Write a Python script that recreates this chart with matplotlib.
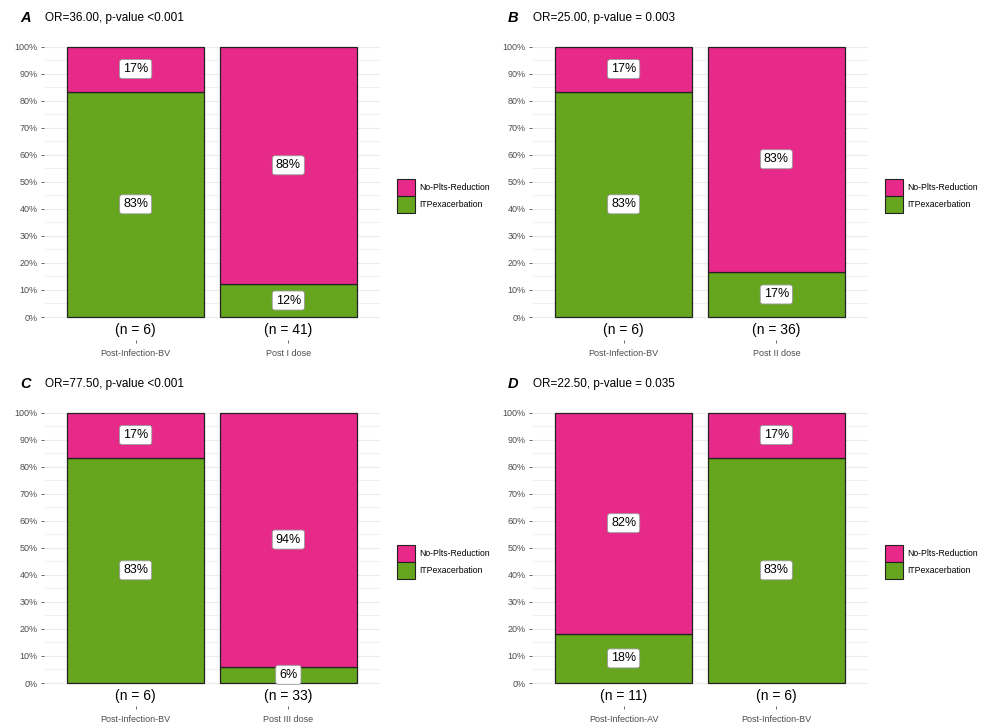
import matplotlib
matplotlib.use("Agg")
import matplotlib.pyplot as plt
from matplotlib.patches import Patch
from matplotlib.ticker import PercentFormatter

plt.rcParams['font.family'] = ['Liberation Sans', 'DejaVu Sans']

# panel data: group names, ITP exacerbation counts and no-platelet-reduction counts
panel_tags = ["A", "B", "C", "D"]
panel_titles = [
    "OR=36.00, p-value <0.001",
    "OR=25.00, p-value = 0.003",
    "OR=77.50, p-value <0.001",
    "OR=22.50, p-value = 0.035",
]
groups = [
    ["Post-Infection-BV", "Post I dose"],
    ["Post-Infection-BV", "Post II dose"],
    ["Post-Infection-BV", "Post III dose"],
    ["Post-Infection-AV", "Post-Infection-BV"],
]
itp_counts = [[5, 5], [5, 6], [5, 2], [2, 5]]
noplts_counts = [[1, 36], [1, 30], [1, 31], [9, 1]]

legend_labels = ["No-Plts-Reduction", "ITPexacerbation"]
PINK = "#E7298A"
GREEN = "#66A61E"
GRID = "#EBEBEB"
TICK_GRAY = "#4D4D4D"

fig = plt.figure(figsize=(9.82, 7.24), dpi=100)

# panel rectangles in pixels: left, top, right, bottom
W, H = 982, 724
boxes = [
    (44, 46, 380, 340),
    (532, 46, 868, 340),
    (44, 412, 380, 706),
    (532, 412, 868, 706),
]


def label_box(ax, x, y, pct):
    ax.text(x, y, f"{pct}%", ha="center", va="center", fontsize=9, color="black",
            bbox=dict(boxstyle="round,pad=0.28,rounding_size=0.2", fc="white",
                      ec="#9A9A9A", lw=0.6), zorder=5)


for i in range(4):
    x0, y0, x1, y1 = boxes[i]
    ax = fig.add_axes([x0 / W, 1 - y1 / H, (x1 - x0) / W, (y1 - y0) / H])

    itp = itp_counts[i]
    nop = noplts_counts[i]
    totals = [a + b for a, b in zip(itp, nop)]
    itp_frac = [a / t for a, t in zip(itp, totals)]
    nop_frac = [b / t for b, t in zip(nop, totals)]
    xs = [1, 2]

    ax.bar(xs, itp_frac, width=0.9, color=GREEN, edgecolor="#222222", lw=0.9, zorder=3)
    ax.bar(xs, nop_frac, width=0.9, bottom=itp_frac, color=PINK, edgecolor="#222222",
           lw=0.9, zorder=3)

    for x, g, p, t in zip(xs, itp_frac, nop_frac, totals):
        label_box(ax, x, g / 2, round(g * 100))
        label_box(ax, x, g + p / 2, round(p * 100))
        ax.text(x, -0.047, f"(n = {t})", ha="center", va="center", fontsize=10, zorder=5)

    ax.set_xlim(0.4, 2.6)
    ax.set_ylim(-0.085, 1.002)
    ax.set_xticks(xs)
    ax.set_xticklabels(groups[i])
    ax.yaxis.set_major_formatter(PercentFormatter(1.0, decimals=0))
    ax.set_yticks([k / 10 for k in range(11)])
    ax.set_yticks([k / 20 for k in range(1, 20, 2)], minor=True)
    ax.grid(axis="y", which="major", color=GRID, lw=0.8, zorder=0)
    ax.grid(axis="y", which="minor", color=GRID, lw=0.5, zorder=0)
    ax.tick_params(axis="y", which="major", length=2.5, width=0.6, color=TICK_GRAY,
                   labelsize=6.5, labelcolor=TICK_GRAY, pad=2)
    ax.tick_params(axis="y", which="minor", length=0)
    ax.tick_params(axis="x", length=2.5, width=0.6, color=TICK_GRAY,
                   labelsize=6.5, labelcolor=TICK_GRAY, pad=4)
    for s in ax.spines.values():
        s.set_visible(False)

    # panel letter and test result
    title_y = 1 - (y0 - 28) / H
    fig.text((x0 - 24) / W, title_y, panel_tags[i], fontsize=10.5, fontweight="bold",
             fontstyle="italic", ha="left", va="center")
    fig.text((x0 + 1) / W, title_y, panel_titles[i], fontsize=8.5, ha="left", va="center")

    handles = [Patch(facecolor=PINK, edgecolor="#222222", lw=0.8),
               Patch(facecolor=GREEN, edgecolor="#222222", lw=0.8)]
    ax.legend(handles, legend_labels, loc="center left",
              bbox_to_anchor=((x1 + 13 - x0) / (x1 - x0), 1 - (196 - 46) / (y1 - y0)),
              frameon=False, fontsize=6.2, handlelength=2.0, handleheight=2.6,
              labelspacing=0.0, handletextpad=0.6, borderpad=0)

fig.savefig("out.png", dpi=100, facecolor="white")
